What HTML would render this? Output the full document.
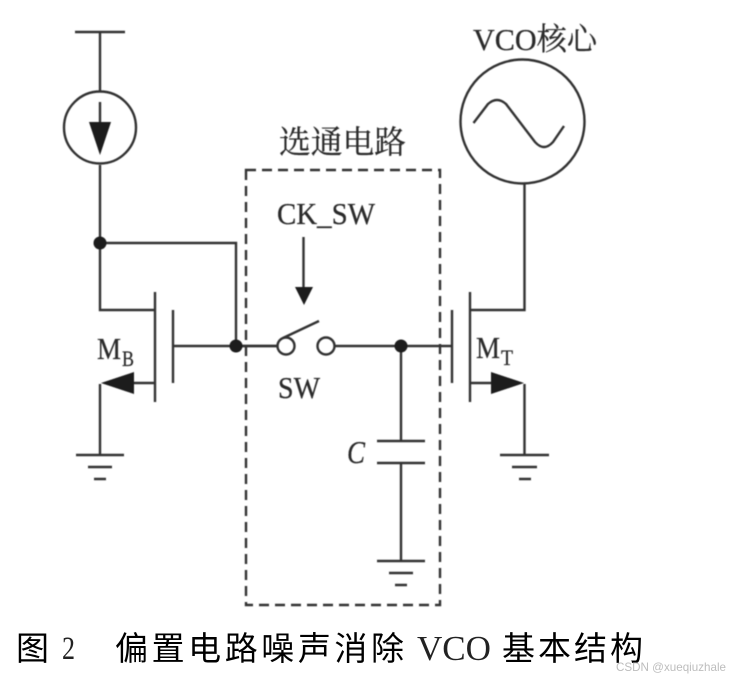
<!DOCTYPE html>
<html><head><meta charset="utf-8"><style>
html,body{margin:0;padding:0;background:#fff;width:744px;height:679px;overflow:hidden}
svg{display:block}
.s{font-family:"Liberation Serif","Noto Serif CJK SC",serif;fill:#2a2a2a;stroke:#2a2a2a;stroke-width:.25}
.c{font-family:"Liberation Sans","Noto Sans CJK SC",sans-serif;fill:#000;font-weight:400}
.v{font-family:"Liberation Serif",serif;fill:#222}
</style></head><body>
<svg width="744" height="679" viewBox="0 0 744 679" xmlns="http://www.w3.org/2000/svg">
<defs><filter id="b" filterUnits="userSpaceOnUse" x="0" y="0" width="744" height="679"><feGaussianBlur stdDeviation="0.45"/></filter></defs>
<rect width="744" height="679" fill="#fff"/>
<g filter="url(#b)">
<g fill="none" stroke="#333" stroke-width="2.4">
<path d="M75 32H125M100 32V92M100 165V310H155M100 243H236V346M155 292V402M173 310V383M173 346H278M155 383H133M100 384V455M76 455H124M88 467H112M94 479H106"/>
<circle cx="100" cy="127.500" r="36"/>
<path d="M100 102V125"/>
<path d="M236 346H278M334 346H453M283 338L319 321M401 346V441M377 441H425M377 463H425M401 463V561M377 561H425M389 573H413M395 585H407M303.500 237V287"/>
<circle cx="286" cy="346" r="8.500"/>
<circle cx="326" cy="346" r="8.500"/>
<circle cx="522.500" cy="121.500" r="62"/>
<path d="M473.500 123L488 104Q497 96 506 104L535 142Q544 152 553 142L564 126"/>
<path d="M524.500 184V310H470M470 292V402M452 310V383M470 383H491M524.500 384V455M500 455H549M512 467H537M519 479H531"/>
</g>
<path d="M246 170H440V605H246Z" fill="none" stroke="#333" stroke-width="2.400" stroke-dasharray="10 6"/>
<g fill="#1a1a1a">
<path d="M89 122H111L100 155Z"/>
<circle cx="100" cy="243" r="6.500"/>
<circle cx="236" cy="346" r="6.500"/>
<circle cx="401" cy="346" r="6.500"/>
<path d="M101 383L134 372V394Z"/>
<path d="M491 372V394L524 383Z"/>
<path d="M295 287H313L304 305Z"/>
</g>
<text class="s" x="473" y="50" font-size="31" textLength="124" lengthAdjust="spacingAndGlyphs">VCO核心</text>
<text class="s" x="279" y="153" font-size="32" textLength="127" lengthAdjust="spacingAndGlyphs">选通电路</text>
<text class="s" x="277" y="224" font-size="31" textLength="98" lengthAdjust="spacingAndGlyphs">CK_SW</text>
<text class="s" x="278" y="398" font-size="31" textLength="42" lengthAdjust="spacingAndGlyphs">SW</text>
<text class="s" x="97" y="359" font-size="31" textLength="24" lengthAdjust="spacingAndGlyphs">M</text>
<text class="s" x="122" y="366" font-size="22" textLength="12" lengthAdjust="spacingAndGlyphs">B</text>
<text class="s" x="476" y="358" font-size="31" textLength="24" lengthAdjust="spacingAndGlyphs">M</text>
<text class="s" x="501" y="365" font-size="22" textLength="12" lengthAdjust="spacingAndGlyphs">T</text>
<text class="s" x="347" y="463" font-size="32" font-style="italic" textLength="18" lengthAdjust="spacingAndGlyphs">C</text>
</g>
<text class="c" x="16" y="660" font-size="33">图</text>
<text class="v" x="62" y="659" font-size="33" textLength="13" lengthAdjust="spacingAndGlyphs">2</text>
<text class="c" x="115" y="660" font-size="33" textLength="289" lengthAdjust="spacing">偏置电路噪声消除</text>
<text class="v" x="417" y="660" font-size="35" textLength="74" lengthAdjust="spacingAndGlyphs">VCO</text>
<text class="c" x="502" y="660" font-size="33" textLength="141" lengthAdjust="spacing">基本结构</text>
<text x="616" y="671" font-family="Liberation Sans,sans-serif" font-size="12" fill="#bdbdbd" textLength="110" lengthAdjust="spacingAndGlyphs">CSDN @xueqiuzhale</text>
</svg>
</body></html>
